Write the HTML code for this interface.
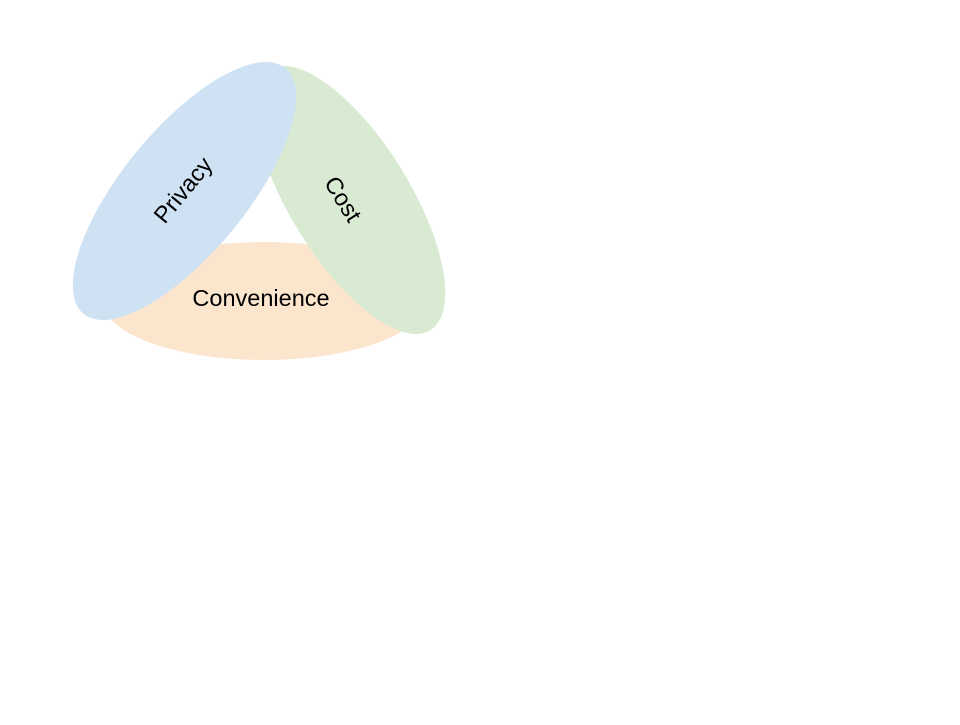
<!DOCTYPE html>
<html><head><meta charset="utf-8"><style>html,body{margin:0;padding:0;background:#fff}</style></head>
<body>
<svg width="960" height="720" xmlns="http://www.w3.org/2000/svg" font-family="Liberation Sans, sans-serif" font-size="23.5">
<ellipse cx="264" cy="301" rx="161" ry="59" fill="#fce5cd"/>
<ellipse cx="0" cy="0" rx="153" ry="60" fill="#d9ead3" transform="translate(350,200) rotate(58.3)"/>
<ellipse cx="0" cy="0" rx="159" ry="62" fill="#cfe2f3" transform="translate(184.5,191) rotate(-50.6)"/>
<text x="261" y="306" text-anchor="middle">Convenience</text>
<text text-anchor="middle" transform="translate(183,190) rotate(-50.6)" dy="8">Privacy</text>
<text text-anchor="middle" transform="translate(343,199) rotate(58.3)" dy="8">Cost</text>
</svg>
</body></html>
